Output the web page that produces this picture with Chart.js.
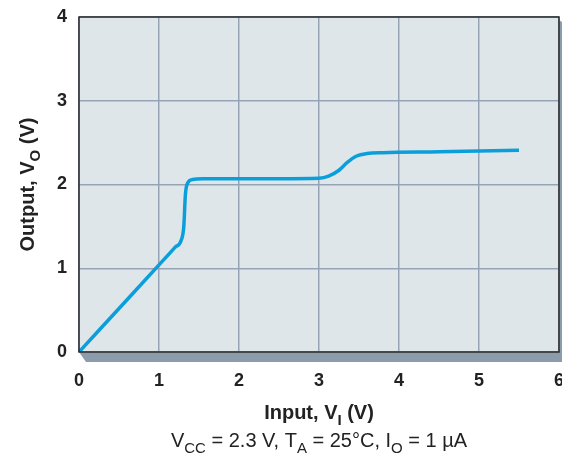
<!DOCTYPE html>
<html>
<head>
<meta charset="utf-8">
<script src="https://cdn.jsdelivr.net/npm/chart.js@4/dist/chart.umd.min.js"></script>
<style>
  html, body { margin: 0; padding: 0; background: #ffffff; }
  #wrap { width: 562px; height: 454px; position: relative; }
</style>
</head>
<body>
<div id="wrap"><canvas id="c" width="562" height="454"></canvas></div>
<script>
// Data
const inputV  = [0, 0.5, 1.0, 1.2, 1.28, 1.31, 1.33, 1.36, 1.42, 1.55, 2.0, 2.5, 3.0, 3.12, 3.25, 3.35, 3.47, 3.6, 3.8, 4.5, 5.5];
const outputV = [0, 0.52, 1.04, 1.25, 1.34, 1.5, 1.88, 2.02, 2.06, 2.07, 2.07, 2.07, 2.075, 2.1, 2.17, 2.26, 2.34, 2.37, 2.38, 2.39, 2.41];
const xTicks = [0, 1, 2, 3, 4, 5, 6];
const yTicks = [0, 1, 2, 3, 4];
const yTitle = [{t: 'Output, V'}, {t: 'O', sub: true}, {t: ' (V)'}];
const xTitle = [{t: 'Input, V'}, {t: 'I', sub: true}, {t: ' (V)'}];
const subTitle = [{t: 'V'}, {t: 'CC', sub: true}, {t: ' = 2.3 V, T'}, {t: 'A', sub: true}, {t: ' = 25°C, I'}, {t: 'O', sub: true}, {t: ' = 1 µA'}];

const FONT = '"Liberation Sans", Arial, sans-serif';

function drawRich(ctx, parts, cx, cy, size, weight) {
  const subSize = Math.round(size * 0.75);
  let total = 0;
  parts.forEach(p => {
    ctx.font = weight + ' ' + (p.sub ? subSize : size) + 'px ' + FONT;
    p.w = ctx.measureText(p.t).width;
    total += p.w;
  });
  let x = cx - total / 2;
  ctx.textBaseline = 'alphabetic';
  ctx.textAlign = 'left';
  parts.forEach(p => {
    ctx.font = weight + ' ' + (p.sub ? subSize : size) + 'px ' + FONT;
    ctx.fillText(p.t, x, cy + (p.sub ? size * 0.28 : 0));
    x += p.w;
  });
}

const decor = {
  id: 'decor',
  beforeDraw(chart) {
    const {ctx, chartArea: a} = chart;
    ctx.save();
    // shadow
    ctx.fillStyle = '#8c9cad';
    ctx.beginPath();
    ctx.moveTo(a.left, a.bottom);
    ctx.lineTo(a.right, a.bottom);
    ctx.lineTo(a.right, a.top + 3);
    ctx.lineTo(a.right + 3, a.top + 5);
    ctx.lineTo(a.right + 3, a.bottom + 10);
    ctx.lineTo(a.left + 7, a.bottom + 10);
    ctx.closePath();
    ctx.fill();
    // plot background
    ctx.fillStyle = '#dfe6ea';
    ctx.fillRect(a.left, a.top, a.right - a.left, a.bottom - a.top);
    ctx.restore();
  },
  afterDatasetsDraw(chart) {
    const {ctx, chartArea: a} = chart;
    ctx.save();
    ctx.strokeStyle = '#2a2a2a';
    ctx.lineWidth = 1.5;
    ctx.strokeRect(a.left, a.top, a.right - a.left, a.bottom - a.top);
    ctx.fillStyle = '#222222';
    // y title
    ctx.save();
    ctx.translate(34, (a.top + a.bottom) / 2);
    ctx.rotate(-Math.PI / 2);
    drawRich(ctx, yTitle, 0, 0, 20, 'bold');
    ctx.restore();
    // x title
    drawRich(ctx, xTitle, (a.left + a.right) / 2, 419, 20, 'bold');
    drawRich(ctx, subTitle, (a.left + a.right) / 2, 447, 20, 'normal');
    ctx.restore();
  }
};

new Chart(document.getElementById('c'), {
  type: 'scatter',
  data: {
    datasets: [{
      data: inputV.map((x, i) => ({x: x, y: outputV[i]})),
      showLine: true,
      borderColor: '#0a9fda',
      borderWidth: 3.5,
      pointRadius: 0,
      cubicInterpolationMode: 'monotone',
      fill: false
    }]
  },
  options: {
    responsive: false,
    animation: false,
    devicePixelRatio: 1,
    layout: { padding: { top: 17, right: 3, left: 0, bottom: 0 } },
    plugins: { legend: { display: false }, tooltip: { enabled: false } },
    scales: {
      x: {
        type: 'linear', min: 0, max: 6,
        afterFit(s) { s.height = 102; s.paddingRight = 0; s.paddingLeft = 0; },
        afterBuildTicks(s) { s.ticks = xTicks.map(v => ({value: v})); },
        grid: { color: '#95a4b4', lineWidth: 1.5, drawTicks: false },
        border: { display: false },
        ticks: { padding: 18, color: '#222', font: { family: FONT, size: 18, weight: 'bold' } }
      },
      y: {
        type: 'linear', min: 0, max: 4,
        afterFit(s) { s.width = 79; s.paddingTop = 0; s.paddingBottom = 0; },
        afterBuildTicks(s) { s.ticks = yTicks.map(v => ({value: v})); },
        grid: { color: '#95a4b4', lineWidth: 1.5, drawTicks: false },
        border: { display: false },
        ticks: { padding: 12, color: '#222', font: { family: FONT, size: 18, weight: 'bold' } }
      }
    }
  },
  plugins: [decor]
});
</script>
</body>
</html>
